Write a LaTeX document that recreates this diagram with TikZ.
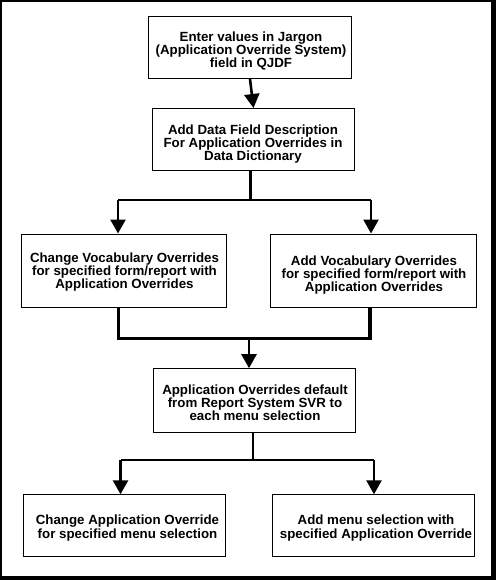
\documentclass[tikz,border=0pt]{standalone}
\usepackage{fontspec}
\setmainfont{Liberation Sans}
\usetikzlibrary{arrows.meta}
\newcommand{\firstline}{\rule{0pt}{12pt}}
\newcommand{\boxfont}{\fontsize{13.3}{13}\selectfont\bfseries\lineskiplimit=-100pt\relax}
\begin{document}
\begin{tikzpicture}[x=1pt,y=-1pt,
  box/.style={draw=black,line width=1pt,fill=white,inner sep=0pt,anchor=north west},
  txt/.style={inner sep=0pt,anchor=north,align=center,font=\boxfont},
  conn/.style={line width=2.6pt},
  thick conn/.style={line width=3.6pt},
  arr/.style={-{Triangle[width=15pt,length=14pt]}}]
\useasboundingbox (0,0) rectangle (496,580);
\fill[black] (0,0) rectangle (496,580);
\fill[white] (2,2) rectangle (491,576);
% boxes
\node[box,minimum width=203pt,minimum height=62pt] (b1) at (148,16) {};
\node[box,minimum width=202pt,minimum height=62pt] (b2) at (152,108) {};
\node[box,minimum width=205pt,minimum height=73pt] (b3) at (20.5,233.5) {};
\node[box,minimum width=205.5pt,minimum height=73pt] (b4) at (270,233.5) {};
\node[box,minimum width=202.5pt,minimum height=63.5pt] (b5) at (152.7,368.2) {};
\node[box,minimum width=202.5pt,minimum height=61.7pt] (b6) at (22.7,494.3) {};
\node[box,minimum width=202.5pt,minimum height=61.7pt] (b7) at (271.7,494.3) {};
% texts
\node[txt] (t1) at (251,29.7) {\firstline Enter values in Jargon\\(Application Override System)\\field in QJDF};
\node[txt] (t2) at (253,122) {\firstline Add Data Field Description\\For Application Overrides in\\Data Dictionary};
\node[txt] (t3) at (124.5,250.7) {\firstline Change Vocabulary Overrides\\for specified form/report with\\Application Overrides};
\node[txt] (t4) at (374,253.7) {\firstline Add Vocabulary Overrides\\for specified form/report with\\Application Overrides};
\node[txt] (t5) at (255,382) {\firstline Application Overrides default\\from Report System SVR to\\each menu selection};
\node[txt] (t6) at (127.5,512) {\firstline Change Application Override\\[1pt]for specified menu selection};
\node[txt] (t7) at (376,512) {\firstline Add menu selection with\\[1pt]specified Application Override};
% connectors
\coordinate (s1) at (250.5,200);
\coordinate (s1l) at (118,200);
\coordinate (s1r) at (371,200);
\coordinate (m1) at (249,338.3);
\coordinate (m1l) at (118.5,338.3);
\coordinate (m1r) at (370,338.3);
\coordinate (s2) at (253,460);
\coordinate (s2l) at (120.5,460);
\coordinate (s2r) at (374,460);
\draw[conn,arr] (b1.south) -- (b2.north);
\draw[conn] (b2.south -| s1) -- (s1);
\draw[conn] (s1l) -- (s1r);
\draw[conn,arr] (s1l) -- (s1l |- b3.north);
\draw[conn,arr] (s1r) -- (s1r |- b4.north);
\draw[thick conn] (m1l |- b3.south) -- (m1l) -- (m1r) -- (m1r |- b4.south);
\draw[conn,arr] (m1) -- (m1 |- b5.north);
\draw[conn] (b5.south -| s2) -- (s2);
\draw[conn] (s2l) -- (s2r);
\draw[conn,arr] (s2l) -- (s2l |- b6.north);
\draw[conn,arr] (s2r) -- (s2r |- b7.north);
\end{tikzpicture}
\end{document}
